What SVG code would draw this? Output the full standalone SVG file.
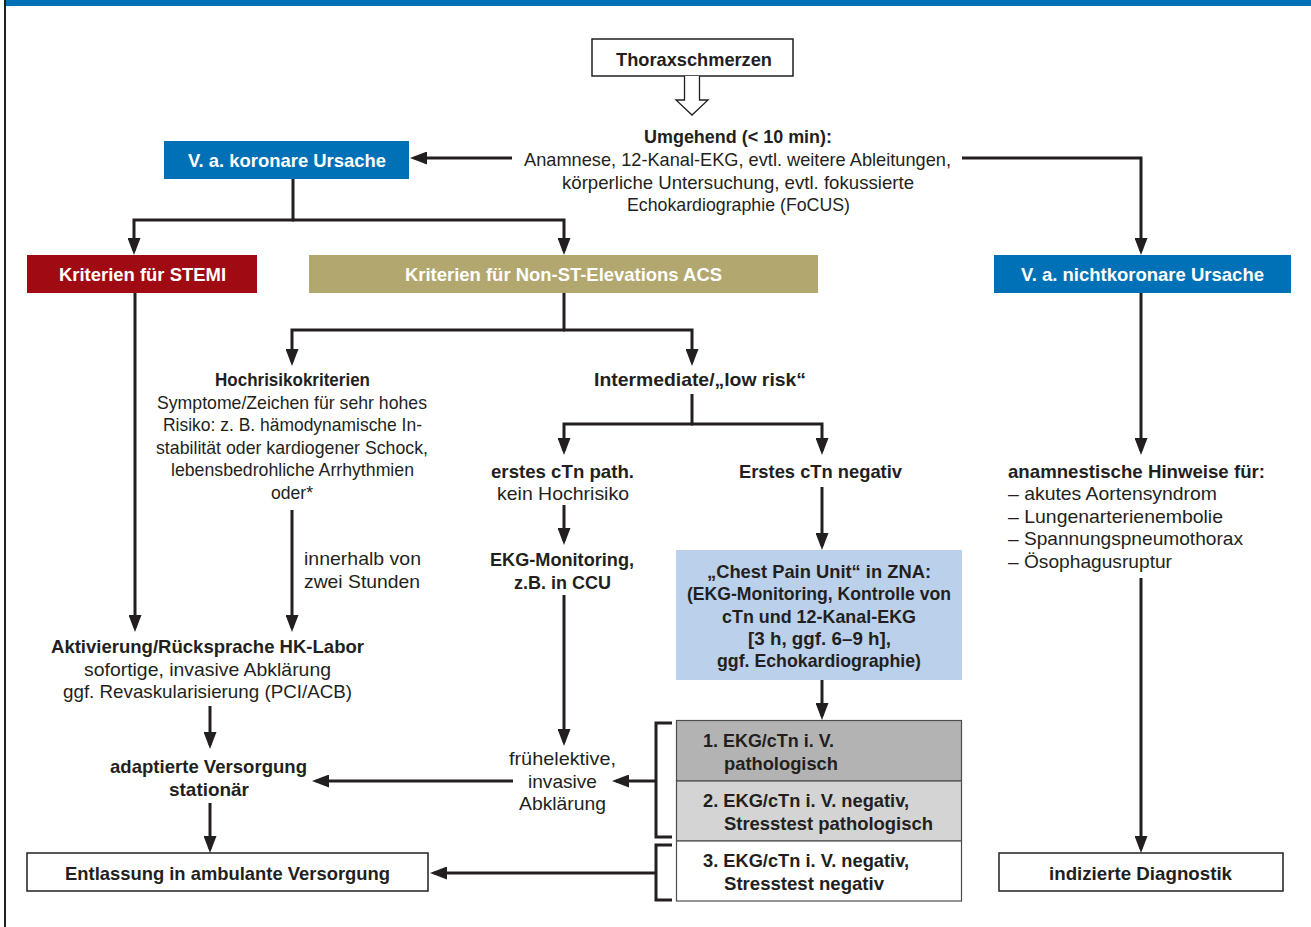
<svg xmlns="http://www.w3.org/2000/svg" width="1311" height="927" viewBox="0 0 1311 927">
<style>
text{font-family:"Liberation Sans","Arial",sans-serif;font-size:19px;fill:#231f20}
.b{font-weight:bold}
.w{fill:#ffffff;font-weight:bold}
.c{text-anchor:middle}
.ln{fill:none;stroke:#231f20;stroke-width:3}
.bx{stroke:#231f20;stroke-width:1.5}
</style>
<defs>
<marker id="ah" viewBox="0 0 17 13" refX="13" refY="6.5" markerWidth="17" markerHeight="13" markerUnits="userSpaceOnUse" orient="auto">
<path d="M0,0 L17,6.5 L0,13 z" fill="#231f20"/>
</marker>
</defs>
<rect x="5" y="0" width="1306" height="6" fill="#0071b6"/>
<rect x="4" y="0" width="2" height="927" fill="#231f20"/>

<g id="connectors">
<path class="ln" d="M512,158 H414" marker-end="url(#ah)"/>
<path class="ln" d="M962,158 H1141 V251" marker-end="url(#ah)"/>
<path class="ln" d="M293,179 V220"/>
<path class="ln" d="M294,220 H134 V251" marker-end="url(#ah)"/>
<path class="ln" d="M292,220 H564 V251" marker-end="url(#ah)"/>
<path class="ln" d="M135,293 V628" marker-end="url(#ah)"/>
<path class="ln" d="M564,293 V330"/>
<path class="ln" d="M565,330 H292 V362" marker-end="url(#ah)"/>
<path class="ln" d="M563,330 H692 V362" marker-end="url(#ah)"/>
<path class="ln" d="M292,510 V628" marker-end="url(#ah)"/>
<path class="ln" d="M692,394 V424"/>
<path class="ln" d="M693,424 H564 V451" marker-end="url(#ah)"/>
<path class="ln" d="M691,424 H822 V451" marker-end="url(#ah)"/>
<path class="ln" d="M564,505 V541" marker-end="url(#ah)"/>
<path class="ln" d="M564,595 V742" marker-end="url(#ah)"/>
<path class="ln" d="M822,487 V546" marker-end="url(#ah)"/>
<path class="ln" d="M822,680 V716" marker-end="url(#ah)"/>
<path class="ln" d="M672,723 H656 V837 H672"/>
<path class="ln" d="M656,781 H616" marker-end="url(#ah)"/>
<path class="ln" d="M672,845 H656 V900 H672"/>
<path class="ln" d="M656,873 H434" marker-end="url(#ah)"/>
<path class="ln" d="M513,781 H316" marker-end="url(#ah)"/>
<path class="ln" d="M210,706 V745" marker-end="url(#ah)"/>
<path class="ln" d="M210,803 V849" marker-end="url(#ah)"/>
<path class="ln" d="M1141,293 V451" marker-end="url(#ah)"/>
<path class="ln" d="M1141,578 V849" marker-end="url(#ah)"/>
</g>

<g id="thorax">
<rect class="bx" x="592" y="39" width="201" height="37" fill="#ffffff"/>
<text class="b c" x="694" y="66" textLength="156" lengthAdjust="spacingAndGlyphs">Thoraxschmerzen</text>
<path d="M684.5,76 V100 H676 L692,115 L708,100 H699.5 V76" fill="#ffffff" stroke="#231f20" stroke-width="1.3"/>
</g>

<g id="umgehend">
<text class="b c" x="738" y="143" textLength="188" lengthAdjust="spacingAndGlyphs">Umgehend (&lt; 10 min):</text>
<text class="c" x="737.5" y="166" textLength="427" lengthAdjust="spacingAndGlyphs">Anamnese, 12-Kanal-EKG, evtl. weitere Ableitungen,</text>
<text class="c" x="738" y="189" textLength="352" lengthAdjust="spacingAndGlyphs">körperliche Untersuchung, evtl. fokussierte</text>
<text class="c" x="738.5" y="211" textLength="223" lengthAdjust="spacingAndGlyphs">Echokardiographie (FoCUS)</text>
</g>

<g id="koronar">
<rect x="164" y="141" width="245" height="38" fill="#0071b6"/>
<text class="w c" x="287" y="167" textLength="198" lengthAdjust="spacingAndGlyphs">V. a. koronare Ursache</text>
</g>

<g id="stemi">
<rect x="27" y="255" width="230" height="38" fill="#a00a12"/>
<text class="w c" x="142.5" y="281" textLength="167" lengthAdjust="spacingAndGlyphs">Kriterien für STEMI</text>
</g>

<g id="nstemi">
<rect x="309" y="255" width="509" height="38" fill="#b3a770"/>
<text class="w c" x="563.5" y="281" textLength="317" lengthAdjust="spacingAndGlyphs">Kriterien für Non-ST-Elevations ACS</text>
</g>

<g id="nichtkoronar">
<rect x="994" y="255" width="297" height="38" fill="#0071b6"/>
<text class="w c" x="1142.5" y="281" textLength="243" lengthAdjust="spacingAndGlyphs">V. a. nichtkoronare Ursache</text>
</g>

<g id="hochrisiko">
<text class="b c" x="292.5" y="386" textLength="155" lengthAdjust="spacingAndGlyphs">Hochrisikokriterien</text>
<text class="c" x="292" y="409" textLength="270" lengthAdjust="spacingAndGlyphs">Symptome/Zeichen für sehr hohes</text>
<text class="c" x="292.5" y="431" textLength="259" lengthAdjust="spacingAndGlyphs">Risiko: z. B. hämodynamische In-</text>
<text class="c" x="292" y="454" textLength="272" lengthAdjust="spacingAndGlyphs">stabilität oder kardiogener Schock,</text>
<text class="c" x="292.5" y="476" textLength="243" lengthAdjust="spacingAndGlyphs">lebensbedrohliche Arrhythmien</text>
<text class="c" x="292" y="499" textLength="42" lengthAdjust="spacingAndGlyphs">oder*</text>
</g>

<g id="zweistunden">
<text x="304" y="565" textLength="117" lengthAdjust="spacingAndGlyphs">innerhalb von</text>
<text x="304" y="588" textLength="116" lengthAdjust="spacingAndGlyphs">zwei Stunden</text>
</g>

<g id="intermediate">
<text class="b c" x="700" y="386" textLength="212" lengthAdjust="spacingAndGlyphs">Intermediate/„low risk“</text>
</g>

<g id="ctnpath">
<text class="b c" x="562.5" y="478" textLength="143" lengthAdjust="spacingAndGlyphs">erstes cTn path.</text>
<text class="c" x="563" y="500" textLength="132" lengthAdjust="spacingAndGlyphs">kein Hochrisiko</text>
</g>

<g id="ctnneg">
<text class="b c" x="820.5" y="478" textLength="163" lengthAdjust="spacingAndGlyphs">Erstes cTn negativ</text>
</g>

<g id="monitoring">
<text class="b c" x="562" y="566" textLength="144" lengthAdjust="spacingAndGlyphs">EKG-Monitoring,</text>
<text class="b c" x="562.5" y="589" textLength="97" lengthAdjust="spacingAndGlyphs">z.B. in CCU</text>
</g>

<g id="cpu">
<rect x="676" y="550" width="286" height="130" fill="#bbd0ea"/>
<text class="b c" x="819" y="578" textLength="224" lengthAdjust="spacingAndGlyphs">„Chest Pain Unit“ in ZNA:</text>
<text class="b c" x="819" y="600" textLength="264" lengthAdjust="spacingAndGlyphs">(EKG-Monitoring, Kontrolle von</text>
<text class="b c" x="819" y="623" textLength="194" lengthAdjust="spacingAndGlyphs">cTn und 12-Kanal-EKG</text>
<text class="b c" x="819.5" y="645" textLength="143" lengthAdjust="spacingAndGlyphs">[3 h, ggf. 6–9 h],</text>
<text class="b c" x="819" y="667" textLength="204" lengthAdjust="spacingAndGlyphs">ggf. Echokardiographie)</text>
</g>

<g id="outcome1">
<rect x="676.5" y="720.5" width="285" height="60.5" fill="#b3b3b3" stroke="#4d4d4d" stroke-width="1.2"/>
<text class="b" x="703" y="747" textLength="131" lengthAdjust="spacingAndGlyphs">1. EKG/cTn i. V.</text>
<text class="b" x="724" y="770" textLength="114" lengthAdjust="spacingAndGlyphs">pathologisch</text>
</g>
<g id="outcome2">
<rect x="676.5" y="781" width="285" height="60" fill="#d4d4d4" stroke="#4d4d4d" stroke-width="1.2"/>
<text class="b" x="703" y="807" textLength="206" lengthAdjust="spacingAndGlyphs">2. EKG/cTn i. V. negativ,</text>
<text class="b" x="724" y="830" textLength="209" lengthAdjust="spacingAndGlyphs">Stresstest pathologisch</text>
</g>
<g id="outcome3">
<rect x="676.5" y="841" width="285" height="60" fill="#ffffff" stroke="#4d4d4d" stroke-width="1.2"/>
<text class="b" x="703" y="867" textLength="206" lengthAdjust="spacingAndGlyphs">3. EKG/cTn i. V. negativ,</text>
<text class="b" x="724" y="890" textLength="160" lengthAdjust="spacingAndGlyphs">Stresstest negativ</text>
</g>

<g id="fruehelektiv">
<text class="c" x="562.5" y="765" textLength="107" lengthAdjust="spacingAndGlyphs">frühelektive,</text>
<text class="c" x="562.5" y="788" textLength="69" lengthAdjust="spacingAndGlyphs">invasive</text>
<text class="c" x="562.5" y="810" textLength="87" lengthAdjust="spacingAndGlyphs">Abklärung</text>
</g>

<g id="aktivierung">
<text class="b c" x="207.5" y="653" textLength="313" lengthAdjust="spacingAndGlyphs">Aktivierung/Rücksprache HK-Labor</text>
<text class="c" x="207.5" y="676" textLength="247" lengthAdjust="spacingAndGlyphs">sofortige, invasive Abklärung</text>
<text class="c" x="207.5" y="698" textLength="289" lengthAdjust="spacingAndGlyphs">ggf. Revaskularisierung (PCI/ACB)</text>
</g>

<g id="adaptiert">
<text class="b c" x="208.5" y="773" textLength="197" lengthAdjust="spacingAndGlyphs">adaptierte Versorgung</text>
<text class="b c" x="209" y="796" textLength="80" lengthAdjust="spacingAndGlyphs">stationär</text>
</g>

<g id="entlassung">
<rect class="bx" x="27" y="853" width="401" height="38" fill="#ffffff"/>
<text class="b c" x="227.5" y="880" textLength="325" lengthAdjust="spacingAndGlyphs">Entlassung in ambulante Versorgung</text>
</g>

<g id="anamnestisch">
<text class="b" x="1008" y="478" textLength="257" lengthAdjust="spacingAndGlyphs">anamnestische Hinweise für:</text>
<text x="1008" y="500" textLength="209" lengthAdjust="spacingAndGlyphs">– akutes Aortensyndrom</text>
<text x="1008" y="523" textLength="215" lengthAdjust="spacingAndGlyphs">– Lungenarterienembolie</text>
<text x="1008" y="545" textLength="235" lengthAdjust="spacingAndGlyphs">– Spannungspneumothorax</text>
<text x="1008" y="568" textLength="164" lengthAdjust="spacingAndGlyphs">– Ösophagusruptur</text>
</g>

<g id="diagnostik">
<rect class="bx" x="999" y="853" width="284" height="38" fill="#ffffff"/>
<text class="b c" x="1140.5" y="880" textLength="183" lengthAdjust="spacingAndGlyphs">indizierte Diagnostik</text>
</g>
</svg>
